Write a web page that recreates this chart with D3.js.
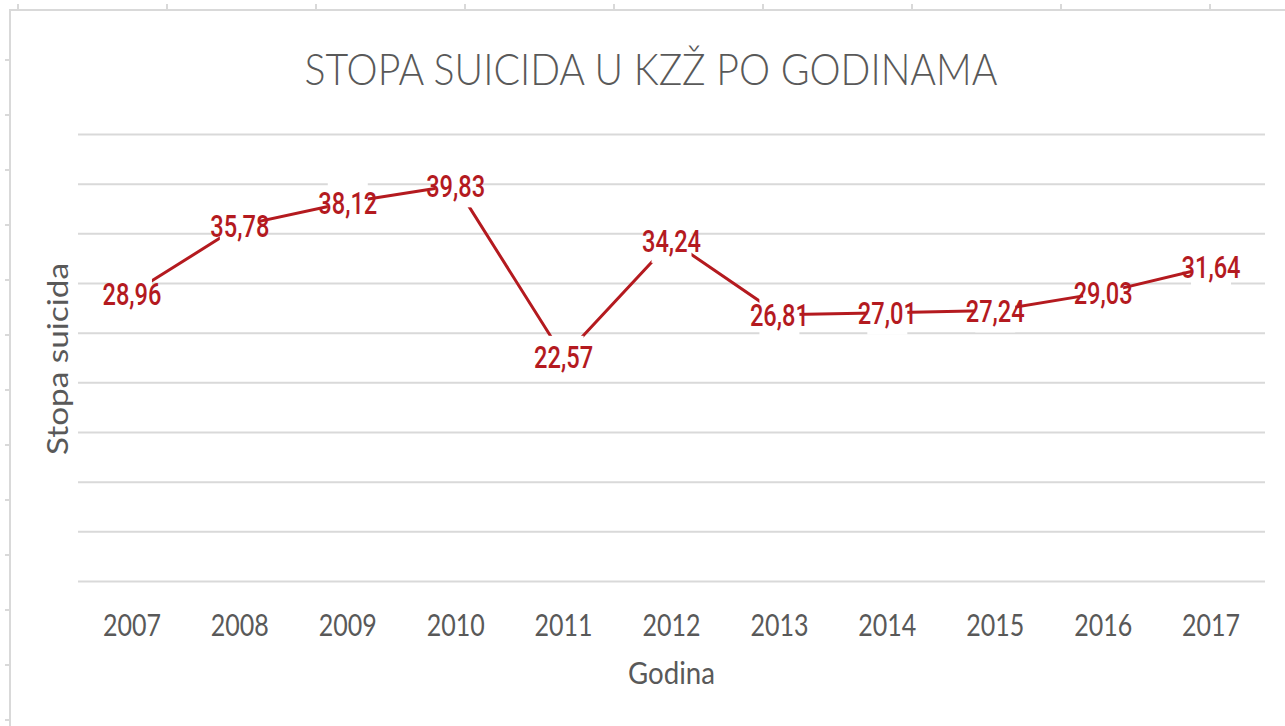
<!DOCTYPE html>
<html>
<head>
<meta charset="utf-8">
<script src="https://cdn.jsdelivr.net/npm/d3@7"></script>
<style>
    body { margin: 0; background: #fff; }
    #chart { width: 1285px; height: 726px; }
    .grid line { stroke: #d9d9d9; stroke-width: 2; }
    .axis-x text { fill: #595959; font-family: Lato, 'Open Sans', sans-serif; font-size: 31px; }
    .frame { stroke: #d9d9d9; stroke-width: 2; fill: none; }
</style>
</head>
<body>
<div id="chart"></div>
<script>
// --- Data ---
const years = ["2007", "2008", "2009", "2010", "2011", "2012", "2013", "2014", "2015", "2016", "2017"];
const rates = [28.96, 35.78, 38.12, 39.83, 22.57, 34.24, 26.81, 27.01, 27.24, 29.03, 31.64];
const gridValues = [0, 5, 10, 15, 20, 25, 30, 35, 40, 45];

const titleText = "STOPA SUICIDA U KZŽ PO GODINAMA";
const xTitle = "Godina";
const yTitle = "Stopa suicida";

// --- Layout ---
const width = 1285, height = 726;
const plot = { left: 78, right: 1265, top: 134, bottom: 581 };
const red = "#b41a1f", grey = "#595959";

// decimal comma, like the original sheet
const fmt = d3.formatLocale({ decimal: ",", thousands: ".", grouping: [3], currency: ["", ""] }).format(".2f");

const svg = d3.select("#chart").append("svg")
    .attr("width", width)
    .attr("height", height);

// sheet frame with its little ruler ticks
svg.append("path").attr("class", "frame")
    .attr("d", `M10,${height} V10 H${width}`);
svg.append("g").selectAll("line").data(d3.range(18, width, 149)).enter().append("line")
    .attr("class", "frame").attr("x1", d => d).attr("x2", d => d).attr("y1", 4).attr("y2", 10);
svg.append("g").selectAll("line").data(d3.range(60, height, 55)).enter().append("line")
    .attr("class", "frame").attr("x1", 5).attr("x2", 10).attr("y1", d => d).attr("y2", d => d);

const x = d3.scaleBand().domain(years).range([plot.left, plot.right]);
const y = d3.scaleLinear().domain([0, 45]).range([plot.bottom, plot.top]);
const cx = d => x(d) + x.bandwidth() / 2;

// gridlines
svg.append("g").attr("class", "grid")
    .attr("transform", `translate(${plot.left},0)`)
    .call(d3.axisLeft(y).tickValues(gridValues).tickSize(-(plot.right - plot.left)).tickFormat(""))
    .call(g => g.select(".domain").remove());

// x axis labels
svg.append("g").attr("class", "axis-x")
    .attr("transform", `translate(0,${plot.bottom})`)
    .call(d3.axisBottom(x).tickSize(0))
    .call(g => g.select(".domain").remove())
    .call(g => g.selectAll("text")
        .attr("y", 55).attr("dy", null)
        .attr("textLength", 58).attr("lengthAdjust", "spacingAndGlyphs"));

// series line
const points = years.map((yr, i) => ({ year: yr, value: rates[i] }));
svg.append("path")
    .datum(points)
    .attr("fill", "none")
    .attr("stroke", red)
    .attr("stroke-width", 3)
    .attr("stroke-linejoin", "round")
    .attr("d", d3.line().x(d => cx(d.year)).y(d => y(d.value)));

// data labels (white boxes hide the line under them)
const labels = svg.append("g").selectAll("g").data(points).enter().append("g")
    .attr("transform", d => `translate(${cx(d.year)},${y(d.value)})`);
labels.append("rect")
    .attr("x", -20).attr("y", -21).attr("width", 40).attr("height", 43)
    .attr("fill", "#fff");
labels.append("text")
    .attr("text-anchor", "middle")
    .attr("y", 11.5)
    .attr("fill", red)
    .attr("font-family", "Roboto, 'DejaVu Sans Condensed', sans-serif")
    .attr("font-weight", 500)
    .attr("font-size", 32)
    .attr("textLength", 59)
    .attr("lengthAdjust", "spacingAndGlyphs")
    .text(d => fmt(d.value));

// titles
svg.append("text")
    .attr("x", 651).attr("y", 85)
    .attr("text-anchor", "middle")
    .attr("fill", grey)
    .attr("font-family", "Lato, 'Open Sans', sans-serif")
    .attr("font-weight", 300)
    .attr("font-size", 44)
    .attr("textLength", 693)
    .attr("lengthAdjust", "spacingAndGlyphs")
    .text(titleText);

svg.append("text")
    .attr("x", (plot.left + plot.right) / 2).attr("y", 684)
    .attr("text-anchor", "middle")
    .attr("fill", grey)
    .attr("font-family", "Lato, 'Open Sans', sans-serif")
    .attr("font-size", 30)
    .attr("textLength", 87)
    .attr("lengthAdjust", "spacingAndGlyphs")
    .text(xTitle);

svg.append("text")
    .attr("transform", "translate(68,359) rotate(-90)")
    .attr("text-anchor", "middle")
    .attr("fill", grey)
    .attr("font-family", "Lato, 'Open Sans', sans-serif")
    .attr("font-size", 28)
    .attr("textLength", 192)
    .attr("lengthAdjust", "spacingAndGlyphs")
    .text(yTitle);
</script>
</body>
</html>
